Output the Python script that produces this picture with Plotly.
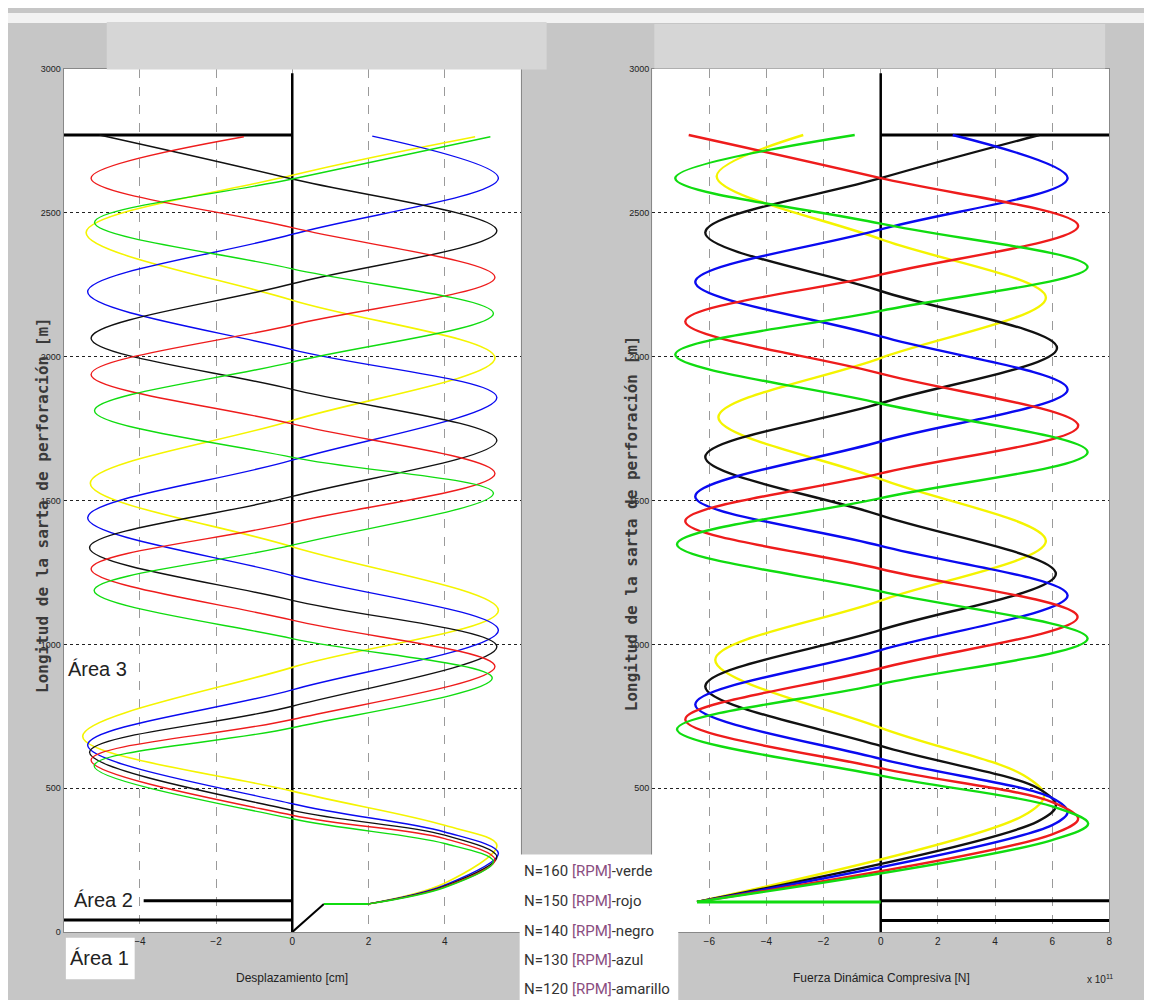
import plotly.graph_objects as go

# ---------------- DATA ----------------
# Left panel: Desplazamiento [cm] vs Longitud [m]  (points read at extrema / crossings)
disp_verde_x = [2.0, 4.0, 5.28, 4.0, 0, -5.2, 0, 5.25, 0, -5.2, 0, 5.28, 0, -5.19, 0, 5.28, 0, -5.19, 0, 5.2]
disp_verde_y = [98, 155, 245, 308, 394, 578, 710, 883, 1020, 1187, 1345, 1525, 1650, 1812, 1981, 2150, 2305, 2466, 2617, 2764]
disp_rojo_x = [2.0, 4.0, 5.32, 4.0, 0, -5.28, 0, 5.32, 0, -5.28, 0, 5.32, 0, -5.28, 0, 5.32, 0, -5.28, -1.27]
disp_rojo_y = [98, 157, 251, 325, 406, 598, 739, 923, 1084, 1262, 1423, 1594, 1766, 1938, 2110, 2276, 2448, 2620, 2764]
disp_negro_x = [2.0, 4.0, 5.37, 4.0, 0, -5.32, 0, 5.37, 0, -5.32, 0, 5.37, 0, -5.28, 0, 5.37, 0, -5.06]
disp_negro_y = [98, 160, 262, 337, 423, 625, 785, 992, 1153, 1336, 1514, 1709, 1886, 2064, 2253, 2437, 2617, 2770]
disp_azul_x = [2.0, 4.0, 5.41, 4.0, 0, -5.37, 0, 5.41, 0, -5.37, 0, 5.37, 0, -5.37, 0, 5.41, 2.1]
disp_azul_y = [98, 163, 274, 348, 446, 650, 842, 1049, 1239, 1440, 1640, 1858, 2024, 2225, 2425, 2620, 2766]
disp_amarillo_x = [2.0, 4.0, 5.37, 4.0, 0, -5.5, 0, 5.41, 0, -5.3, 0, 5.32, 0, -5.41, 0, 4.8]
disp_amarillo_y = [98, 170, 302, 371, 490, 680, 920, 1118, 1339, 1560, 1778, 1995, 2196, 2431, 2630, 2764]

# Right panel: Fuerza Dinamica Compresiva [N] vs Longitud [m]
fza_verde_x = [-6.43, 6.0, 7.26, 6.0, 0, -7.13, 0, 7.24, 0, -7.13, 0, 7.24, 0, -7.19, 0, 7.24, 0, -7.19, -0.91]
fza_verde_y = [105, 320, 377, 437, 544, 705, 862, 1020, 1184, 1348, 1508, 1668, 1837, 2007, 2159, 2311, 2462, 2620, 2770]
fza_rojo_x = [-6.43, 6.0, 6.91, 6.0, 0, -6.84, 0, 6.89, 0, -6.84, 0, 6.91, 0, -6.84, 0, 6.91, 0, -6.72]
fza_rojo_y = [105, 340, 394, 452, 570, 739, 917, 1095, 1262, 1428, 1594, 1760, 1941, 2122, 2285, 2454, 2620, 2770]
fza_azul_x = [-6.43, 6.0, 6.54, 6.0, 0, -6.49, 0, 6.54, 0, -6.49, 0, 6.54, 0, -6.49, 0, 6.54, 2.52]
fza_azul_y = [105, 372, 417, 466, 602, 791, 980, 1170, 1342, 1514, 1705, 1886, 2070, 2259, 2442, 2620, 2770]
fza_negro_x = [-6.43, 5.5, 6.13, 5.5, 0, -6.14, 0, 6.13, 0, -6.14, 0, 6.17, 0, -6.14, 0, 5.55]
fza_negro_y = [105, 385, 440, 500, 647, 854, 1050, 1245, 1448, 1651, 1838, 2030, 2228, 2431, 2620, 2770]
fza_amarillo_x = [-6.43, 5.0, 5.72, 5.0, 0, -5.79, 0, 5.78, 0, -5.68, 0, 5.78, 0, -5.74, -2.71]
fza_amarillo_y = [105, 405, 475, 545, 710, 946, 1152, 1359, 1574, 1789, 1995, 2205, 2408, 2626, 2770]

# Area boundary lines (left panel)
izq_tope_x = [-6, 0]; izq_tope_y = [2770, 2770]
izq_eje_x = [0, 0]; izq_eje_y = [0, 2985]
izq_area2_x = [-3.9, 0]; izq_area2_y = [109, 109]
izq_area1_x = [-6, 0]; izq_area1_y = [42, 42]
izq_rampa_x = [0, 0.83]; izq_rampa_y = [0, 98]
izq_salto_x = [0.83, 2.0]; izq_salto_y = [98, 98]
# Area boundary lines (right panel)
der_tope_x = [0, 8]; der_tope_y = [2770, 2770]
der_eje_x = [0, 0]; der_eje_y = [0, 2985]
der_area2_x = [0, 8]; der_area2_y = [109, 109]
der_area1_x = [0, 8]; der_area1_y = [40, 40]
der_salto_x = [0, -6.43]; der_salto_y = [105, 105]

y_ticks_izq = [0, 500, 1000, 1500, 2000, 2500, 3000]
y_ticks_der = [500, 1000, 1500, 2000, 2500, 3000]  # the 0 label is hidden by the legend box
x_ticks_izq = [-4, -2, 0, 2, 4]
x_ticks_der = [-6, -4, -2, 0, 2, 4, 6, 8]

leyenda = ["N=160 [RPM]-verde", "N=150 [RPM]-rojo", "N=140 [RPM]-negro",
           "N=130 [RPM]-azul", "N=120 [RPM]-amarillo"]

# ---------------- STYLE ----------------
W, H = 1152, 1000
def PX(px): return px / W
def PY(py): return 1 - py / H

C_VERDE = "#10dc10"
C_ROJO = "#ee1c1c"
C_NEGRO = "#111111"
C_AZUL = "#0a0af0"
C_AMAR = "#f4f400"
NARROW = "Liberation Sans Narrow, Arial Narrow, Liberation Sans, sans-serif"

fig = go.Figure()

def add(x, y, color, width, xa, ya, spline=True):
    fig.add_trace(go.Scatter(
        x=x, y=y, mode="lines", xaxis=xa, yaxis=ya, showlegend=False,
        hoverinfo="skip",
        line=dict(color=color, width=width,
                  shape="spline" if spline else "linear", smoothing=1.0)))

# left structure
add(izq_tope_x, izq_tope_y, "#000", 3, "x", "y", False)
add(izq_eje_x, izq_eje_y, "#000", 2.5, "x", "y", False)
add(izq_area2_x, izq_area2_y, "#000", 3, "x", "y", False)
add(izq_area1_x, izq_area1_y, "#000", 3, "x", "y", False)
# left curves
add(disp_amarillo_x, disp_amarillo_y, C_AMAR, 1.6, "x", "y")
add(disp_azul_x, disp_azul_y, C_AZUL, 1.4, "x", "y")
add(disp_negro_x, disp_negro_y, C_NEGRO, 1.4, "x", "y")
add(disp_rojo_x, disp_rojo_y, C_ROJO, 1.4, "x", "y")
add(disp_verde_x, disp_verde_y, C_VERDE, 1.4, "x", "y")
add(izq_rampa_x, izq_rampa_y, "#000", 2, "x", "y", False)
add(izq_salto_x, izq_salto_y, C_VERDE, 2, "x", "y", False)

# right structure
add(der_tope_x, der_tope_y, "#000", 3, "x2", "y2", False)
add(der_eje_x, der_eje_y, "#000", 2.5, "x2", "y2", False)
add(der_area2_x, der_area2_y, "#000", 3, "x2", "y2", False)
add(der_area1_x, der_area1_y, "#000", 3, "x2", "y2", False)
# right curves
add(fza_amarillo_x, fza_amarillo_y, C_AMAR, 2.4, "x2", "y2")
add(fza_negro_x, fza_negro_y, C_NEGRO, 2.4, "x2", "y2")
add(fza_azul_x, fza_azul_y, C_AZUL, 2.4, "x2", "y2")
add(fza_rojo_x, fza_rojo_y, C_ROJO, 2.4, "x2", "y2")
add(fza_verde_x, fza_verde_y, C_VERDE, 2.4, "x2", "y2")
add(der_salto_x, der_salto_y, C_VERDE, 3, "x2", "y2", False)

tickfont = dict(family=NARROW, size=10, color="#222")
common_y = dict(range=[0, 3000], showgrid=True, gridcolor="#222",
                griddash="dot", gridwidth=1, zeroline=False, showline=True,
                linecolor="#888", mirror=True, ticks="", tickfont=dict(family=NARROW, size=9, color="#222"))
common_x = dict(showgrid=True, gridcolor="#9a9a9a", griddash="dash", gridwidth=1,
                zeroline=False, showline=True, linecolor="#888", mirror=True, ticks="",
                tickfont=tickfont)

y0, y1 = PY(928.4), PY(56.4)
fig.update_layout(
    width=W, height=H, autosize=False,
    margin=dict(l=0, r=0, t=0, b=0),
    paper_bgcolor="#c6c6c6", plot_bgcolor="#ffffff",
    xaxis=dict(domain=[PX(55.8), PX(514.2)], range=[-6, 6], tickvals=x_ticks_izq,
               anchor="y", **common_x),
    yaxis=dict(domain=[y0, y1], anchor="x", tickvals=y_ticks_izq, **common_y),
    xaxis2=dict(domain=[PX(645.8), PX(1104.2)], range=[-8, 8], tickvals=x_ticks_der,
                anchor="y2", **common_x),
    yaxis2=dict(domain=[y0, y1], anchor="x2", tickvals=y_ticks_der, **common_y),
)

shapes = [
    dict(type="rect", xref="paper", yref="paper", x0=0, x1=1, y0=PY(10), y1=1,
         fillcolor="#f2f2f2", line=dict(width=0), layer="above"),
    dict(type="rect", xref="paper", yref="paper", x0=PX(99), x1=PX(540), y0=PY(57), y1=PY(9),
         fillcolor="#d6d6d6", line=dict(width=0), layer="above"),
    dict(type="rect", xref="paper", yref="paper", x0=PX(648), x1=PX(1100), y0=PY(56), y1=PY(11),
         fillcolor="#d6d6d6", line=dict(width=0), layer="above"),
    # legend white box
    dict(type="rect", xref="paper", yref="paper", x0=PX(513), x1=PX(672), y0=PY(1000), y1=PY(850),
         fillcolor="#ffffff", line=dict(width=0), layer="above"),
    # Area 1 white box
    dict(type="rect", xref="paper", yref="paper", x0=PX(58), x1=PX(127), y0=PY(976), y1=PY(934),
         fillcolor="#ffffff", line=dict(width=0), layer="above"),
]
fig.update_layout(shapes=shapes)

ann = []
def text(t, px, py, size, family="Liberation Sans, Arial, sans-serif", color="#222",
         xanchor="center", angle=0):
    ann.append(dict(text=t, x=PX(px), y=PY(py), xref="paper", yref="paper",
                    showarrow=False, xanchor=xanchor, yanchor="middle", textangle=angle,
                    font=dict(family=family, size=size, color=color)))

text("Área 3", 90, 663, 20)
text("Área 2", 96, 896, 20)
text("Área 1", 92, 955, 20)
ytitle = "<b>Longitud de la sarta de perforación [m]</b>"
text(ytitle, 34, 497, 16, family="DejaVu Sans Mono, monospace", color="#3a3a3a", angle=-90)
text(ytitle, 625, 515, 16, family="DejaVu Sans Mono, monospace", color="#3a3a3a", angle=-90)
text("Desplazamiento [cm]", 285, 975, 12, family=NARROW)
text("Fuerza Dinámica Compresiva [N]", 876, 975, 12, family=NARROW)
text("x 10<sup>11</sup>", 1095, 976, 10, family=NARROW)

ley_y = [867, 897, 927, 957, 986]
for s, yy in zip(leyenda, ley_y):
    a, b = s.split(" [RPM]")
    t = f"{a} <span style='color:#8a4d80'>[RPM]</span>{b}"
    text(t, 515, yy, 15, family="Roboto, sans-serif", color="#333", xanchor="left")

fig.update_layout(annotations=ann)

fig.write_html("out.html")
